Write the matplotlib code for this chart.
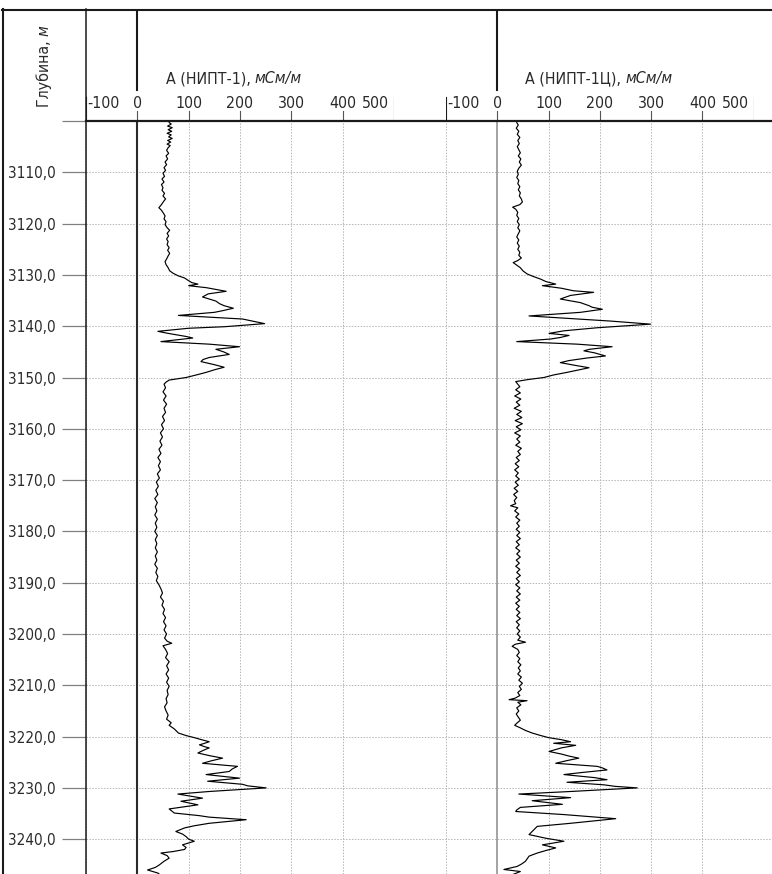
import matplotlib
matplotlib.use("Agg")
import matplotlib.pyplot as plt

plt.rcParams['font.family'] = ['DejaVu Sans']
plt.rcParams['font.stretch'] = 'condensed'

# --- data: depth (m) and apparent conductivity (mS/m) ---
dep1 = [3100.3, 3100.6, 3101.0, 3101.3, 3101.7, 3102.0, 3102.4, 3102.7, 3103.1, 3103.4,
        3103.8, 3104.1, 3104.5, 3104.8, 3105.2, 3105.7, 3106.3, 3106.8, 3107.4, 3108.0,
        3108.5, 3109.1, 3109.6, 3110.2, 3110.8, 3111.3, 3111.9, 3112.4, 3113.0, 3113.5,
        3114.1, 3114.6, 3115.2, 3115.7, 3116.3, 3116.9, 3117.4, 3118.0, 3118.5, 3119.1,
        3119.6, 3120.2, 3120.8, 3121.3, 3121.9, 3122.4, 3123.0, 3123.5, 3124.1, 3124.7,
        3125.2, 3125.8, 3126.3, 3126.9, 3127.4, 3128.0, 3128.6, 3129.2, 3129.7, 3130.2,
        3130.6, 3131.0, 3131.5, 3131.8, 3132.1, 3132.5, 3133.2, 3133.7, 3134.3, 3134.7,
        3135.1, 3135.6, 3136.0, 3136.5, 3137.0, 3137.3, 3137.9, 3138.6, 3139.5, 3140.1,
        3140.4, 3141.0, 3141.4, 3141.7, 3142.0, 3142.3, 3142.7, 3143.0, 3143.5, 3144.0,
        3144.5, 3145.0, 3145.5, 3146.1, 3146.5, 3146.9, 3147.5, 3148.0, 3148.5, 3149.0,
        3149.5, 3150.0, 3150.5, 3150.9, 3151.3,
        3152.0, 3152.8, 3153.6, 3154.4, 3155.2, 3156.0, 3156.8, 3157.6, 3158.4, 3159.2,
        3160.0, 3160.8, 3161.6, 3162.4, 3163.2, 3164.0, 3164.8, 3165.6, 3166.4, 3167.2,
        3168.0, 3168.8, 3169.6, 3170.4, 3171.2, 3172.0, 3172.8, 3173.6, 3174.4, 3175.2,
        3176.0, 3176.8, 3177.6, 3178.4, 3179.2, 3180.0, 3180.8, 3181.6, 3182.4, 3183.2,
        3184.0, 3184.8, 3185.6, 3186.4, 3187.2, 3188.0, 3188.8, 3189.6, 3190.4, 3191.2,
        3192.0, 3192.8, 3193.6, 3194.4, 3195.2, 3196.0, 3196.8, 3197.6, 3198.4, 3199.2,
        3200.0, 3200.8, 3201.4, 3201.8, 3202.3, 3203.0, 3203.8, 3204.6, 3205.4, 3206.2,
        3207.0, 3207.8, 3208.6, 3209.4, 3210.2, 3211.0, 3211.8, 3212.6, 3213.4, 3214.2,
        3215.0, 3215.8, 3216.6, 3217.3, 3217.8, 3218.5, 3219.3,
        3219.8, 3220.2, 3220.6, 3221.0, 3221.4, 3221.6, 3222.0, 3222.2, 3222.7, 3223.2,
        3223.7, 3224.2, 3224.7, 3225.2, 3225.8, 3226.3, 3226.8, 3227.4, 3228.1, 3228.7,
        3229.3, 3229.6, 3230.0, 3230.7, 3231.2, 3232.0, 3232.6, 3233.3, 3234.1, 3234.9,
        3235.4, 3235.7, 3236.2, 3236.9, 3237.4, 3237.8, 3238.5, 3239.0, 3239.5, 3240.0,
        3240.4, 3241.1, 3241.6, 3242.0, 3242.4, 3242.7, 3243.2, 3243.7, 3244.3, 3245.0,
        3245.5, 3246.0, 3246.6, 3247.0]
nipt1 = [62, 66, 59, 68, 60, 67, 58, 66, 61, 68,
         59, 65, 58, 64, 60, 57, 61, 56, 59, 54,
         57, 52, 55, 50, 53, 48, 52, 47, 50, 48,
         53, 50, 55, 51, 47, 42, 47, 51, 54, 52,
         56, 54, 58, 63, 58, 61, 57, 60, 58, 62,
         59, 63, 60, 57, 54, 56, 60, 63, 70, 80,
         92, 98, 106, 118, 100, 135, 173, 138, 127, 140,
         153, 160, 169, 187, 165, 150, 80, 205, 248, 170,
         100, 40, 60, 78, 95, 108, 72, 46, 140, 199,
         153, 168, 179, 140, 128, 124, 150, 169, 150, 134,
         115, 95, 62, 56, 52,
         55, 50, 56, 51, 57, 52, 55, 49, 53, 47,
         51, 45, 49, 44, 48, 42, 46, 40, 45, 41,
         45, 39, 43, 37, 41, 36, 40, 34, 39, 35,
         38, 34, 39, 35, 38, 34, 39, 35, 38, 35,
         39, 35, 38, 34, 39, 36, 40, 37, 42, 46,
         49, 45, 51, 48, 53, 50, 55, 51, 56, 52,
         57, 53, 58, 67, 50, 55, 59, 55, 62, 57,
         61, 56, 61, 57, 62, 58, 60, 56, 58, 53,
         56, 60, 57, 66, 62, 72, 80,
         95, 111, 125, 140, 128, 121, 132, 140, 128, 118,
         140, 166, 145, 127, 195, 185, 179, 134, 199, 137,
         205, 215, 251, 140, 79, 127, 85, 118, 62, 72,
         120, 140, 212, 140, 110, 92, 75, 88, 95, 100,
         111, 88, 95, 92, 70, 46, 58, 62, 52, 43,
         35, 20, 40, 45]

dep2 = [3100.3, 3100.8, 3101.4, 3102.0, 3102.6, 3103.2, 3103.8, 3104.4, 3105.0, 3105.6,
        3106.2, 3106.8, 3107.4, 3108.0, 3108.6, 3109.2, 3109.8, 3110.4, 3111.0, 3111.6,
        3112.2, 3112.8, 3113.4, 3114.0, 3114.6, 3115.2, 3115.8, 3116.3, 3116.8, 3117.2,
        3117.8, 3118.4, 3119.0, 3119.6, 3120.2, 3120.8, 3121.4, 3122.0, 3122.6, 3123.2,
        3123.8, 3124.4, 3125.0, 3125.6, 3126.2, 3126.7, 3127.2, 3127.6, 3128.1, 3128.6,
        3129.2, 3129.8, 3130.3, 3130.8, 3131.3, 3131.8, 3132.1, 3132.6, 3133.1, 3133.4,
        3134.0, 3134.7, 3135.1, 3135.4, 3136.0, 3136.3, 3136.7, 3137.3, 3138.0, 3139.0,
        3139.6, 3140.3, 3140.9, 3141.4, 3141.8, 3142.2, 3142.5, 3143.0, 3143.5, 3144.0,
        3144.5, 3144.8, 3145.2, 3145.8, 3146.2, 3146.7, 3147.1, 3147.6, 3148.1, 3148.6,
        3149.0, 3149.5, 3150.0, 3150.4, 3150.8, 3151.3,
        3151.8, 3152.4, 3153.0, 3153.6, 3154.2, 3154.8, 3155.4, 3156.0, 3156.6, 3157.2,
        3157.8, 3158.4, 3159.0, 3159.6, 3160.2, 3160.8, 3161.4, 3162.0, 3162.6, 3163.2,
        3163.8, 3164.4, 3165.0, 3165.6, 3166.2, 3166.8, 3167.4, 3168.0, 3168.6, 3169.2,
        3169.8, 3170.4, 3171.0, 3171.6, 3172.2, 3172.8, 3173.4, 3174.0, 3174.6, 3175.0,
        3175.4, 3176.0, 3176.6, 3177.2, 3177.8, 3178.4, 3179.0, 3179.6, 3180.2, 3180.8,
        3181.4, 3182.0, 3182.6, 3183.2, 3183.8, 3184.4, 3185.0, 3185.6, 3186.2, 3186.8,
        3187.4, 3188.0, 3188.6, 3189.2, 3189.8, 3190.4, 3191.0, 3191.6, 3192.2, 3192.8,
        3193.4, 3194.0, 3194.6, 3195.2, 3195.8, 3196.4, 3197.0, 3197.6, 3198.2, 3198.8,
        3199.4, 3200.0, 3200.6, 3201.2, 3201.6, 3202.0, 3202.4, 3203.0, 3203.6, 3204.2,
        3204.8, 3205.4, 3206.0, 3206.6, 3207.2, 3207.8, 3208.4, 3209.0, 3209.6, 3210.2,
        3210.8, 3211.4, 3212.0, 3212.5, 3212.8, 3213.0, 3213.3, 3213.8, 3214.4, 3215.0,
        3215.6, 3216.2, 3216.8, 3217.4, 3217.8, 3218.3, 3218.8, 3219.3,
        3219.8, 3220.2, 3220.6, 3221.0, 3221.3, 3221.7, 3222.2, 3222.9, 3223.4, 3223.8,
        3224.2, 3224.7, 3225.2, 3225.8, 3226.1, 3226.5, 3227.0, 3227.4, 3228.0, 3228.4,
        3228.9, 3229.4, 3229.7, 3230.0, 3230.7, 3231.2, 3231.9, 3232.5, 3233.2, 3233.8,
        3234.3, 3234.6, 3235.2, 3236.0, 3236.9, 3237.5, 3238.2, 3239.1, 3239.8, 3240.4,
        3241.1, 3241.7, 3242.2, 3242.7, 3243.3, 3244.3, 3244.8, 3245.3, 3245.9, 3246.3,
        3246.9]
nipt1c = [38, 41, 37, 42, 39, 44, 40, 43, 39, 42,
          45, 41, 46, 43, 47, 42, 39, 41, 38, 42,
          40, 44, 41, 45, 43, 47, 49, 44, 30, 36,
          40, 38, 42, 39, 43, 40, 44, 41, 38, 42,
          39, 43, 40, 44, 42, 47, 40, 31, 38, 45,
          50, 58, 70, 84, 95, 114, 88, 125, 149, 188,
          143, 123, 145, 162, 179, 185, 205, 162, 62, 221,
          299, 195, 130, 101, 140, 123, 104, 38, 156, 224,
          180, 169, 190, 211, 175, 140, 123, 150, 179, 155,
          136, 110, 91, 60, 36, 40,
          44, 36, 45, 34, 46, 37, 44, 33, 47, 38,
          48, 35, 49, 37, 46, 34, 45, 38, 44, 36,
          47, 40, 45, 37, 43, 35, 42, 34, 41, 36,
          43, 35, 41, 33, 40, 32, 38, 33, 36, 26,
          40, 34, 42, 36, 44, 38, 43, 37, 44, 38,
          45, 37, 43, 36, 44, 38, 45, 37, 43, 36,
          44, 38, 45, 37, 43, 36, 44, 38, 45, 37,
          44, 36, 43, 37, 44, 38, 45, 37, 43, 38,
          44, 39, 45, 40, 55, 35, 29, 40, 43, 38,
          44, 40, 46, 41, 45, 40, 47, 42, 49, 43,
          47, 40, 44, 35, 23, 58, 40, 46, 38, 42,
          37, 41, 45, 38, 34, 45, 55, 68,
          85, 100, 125, 143, 110, 153, 125, 101, 125, 140,
          159, 135, 114, 195, 205, 214, 165, 130, 190, 214,
          136, 208, 230, 273, 143, 42, 143, 68, 127, 45,
          38, 36, 130, 231, 143, 78, 71, 62, 94, 130,
          88, 114, 95, 78, 62, 55, 48, 39, 13, 45,
          30]

depth_ticks = [3100, 3110, 3120, 3130, 3140, 3150, 3160, 3170, 3180, 3190,
               3200, 3210, 3220, 3230, 3240]
scale_ticks = [-100, 0, 100, 200, 300, 400, 500]
titles = ["А (НИПТ-1), ", "А (НИПТ-1Ц), "]
unit = "мСм/м"

W, H = 772, 874
fig = plt.figure(figsize=(W / 100, H / 100), dpi=100)


def box(l, t, r, b):
    return [l / W, 1 - b / H, (r - l) / W, (b - t) / H]


ylo = 3100 + (H - 121) / 5.13
txt = '#2a2a2a'
fs = 11.4

# depth axis with horizontal grid
base = fig.add_axes(box(86, 121, W, H))
base.set_ylim(ylo, 3100)
base.set_xlim(0, 1)
base.set_xticks([])
base.set_yticks(depth_ticks)
base.set_yticklabels(['' if d == 3100 else f'{d},0' for d in depth_ticks])
base.tick_params(axis='y', length=17, width=0.9, color='#808080', pad=5,
                 labelsize=11, labelcolor=txt)
base.yaxis.grid(True, ls=(0, (1.5, 1.5)), color='#b5b5b5', lw=0.7)
for s in base.spines.values():
    s.set_visible(False)

tracks = [(box(86, 121, 394, H), box(86, 9, 394, 121), nipt1, dep1, titles[0], '#2a2a2a', 1.5),
          (box(446, 121, 753.6, H), box(446, 9, 753.6, 121), nipt1c, dep2, titles[1], '#8a8a8a', 1.1)]

for rect, hrect, vals, deps, title, zc, zw in tracks:
    ax = fig.add_axes(rect)
    ax.patch.set_alpha(0)
    ax.set_xlim(-100, 500)
    ax.set_ylim(ylo, 3100)
    ax.set_xticks([t for t in scale_ticks if t != 0])
    ax.set_yticks([])
    ax.tick_params(length=0, labelbottom=False)
    ax.xaxis.grid(True, ls=(0, (1.5, 1.5)), color='#b5b5b5', lw=0.7)
    for s in ax.spines.values():
        s.set_visible(False)
    ax.axvline(0, color=zc, lw=zw)
    ax.plot(vals, deps, color='black', lw=0.85)

    # header for the track
    hx = fig.add_axes(hrect)
    hx.set_xlim(-100, 500)
    hx.set_ylim(0, 112)
    hx.axis('off')
    hx.plot([0, 0], [31, 112], color='#1a1a1a', lw=1.5)
    for t in scale_ticks:
        edge = t in (-100, 500)
        hx.plot([t, t], [0, 24 if edge else 10], color='#1a1a1a' if edge else '#555555', lw=0.8)
        ha = 'left' if t == -100 else ('right' if t == 500 else 'center')
        dx = 1 if t == -100 else (-5 if t == 500 else 0)
        hx.annotate(str(t), (t, 17), xytext=(dx, 0), textcoords='offset pixels',
                    ha=ha, va='center', fontsize=fs, color=txt)
    t1 = hx.text(55, 42, title, ha='left', va='center', fontsize=fs, color=txt)
    hx.annotate(unit, xy=(1, 0.5), xycoords=t1, ha='left', va='center',
                fontsize=fs, color=txt, style='italic')

# frame lines and depth header
ov = fig.add_axes([0, 0, 1, 1])
ov.set_xlim(0, W)
ov.set_ylim(H, 0)
ov.axis('off')
ov.plot([2.5, 2.5], [9, H], color='#1a1a1a', lw=1.5)
ov.plot([2, W], [9.5, 9.5], color='#1a1a1a', lw=1.5)
ov.plot([86, W], [121, 121], color='#1a1a1a', lw=1.6)
ov.plot([86, 86], [9, H], color='#1a1a1a', lw=1.1)
g = ov.text(44, 107, "Глубина, ", rotation=90, ha='center', va='bottom',
            fontsize=fs, color=txt)
ov.annotate("м", xy=(0.5, 1), xycoords=g, rotation=90, ha='center', va='bottom',
            fontsize=fs, color=txt, style='italic')

fig.savefig("out.png", dpi=100)
